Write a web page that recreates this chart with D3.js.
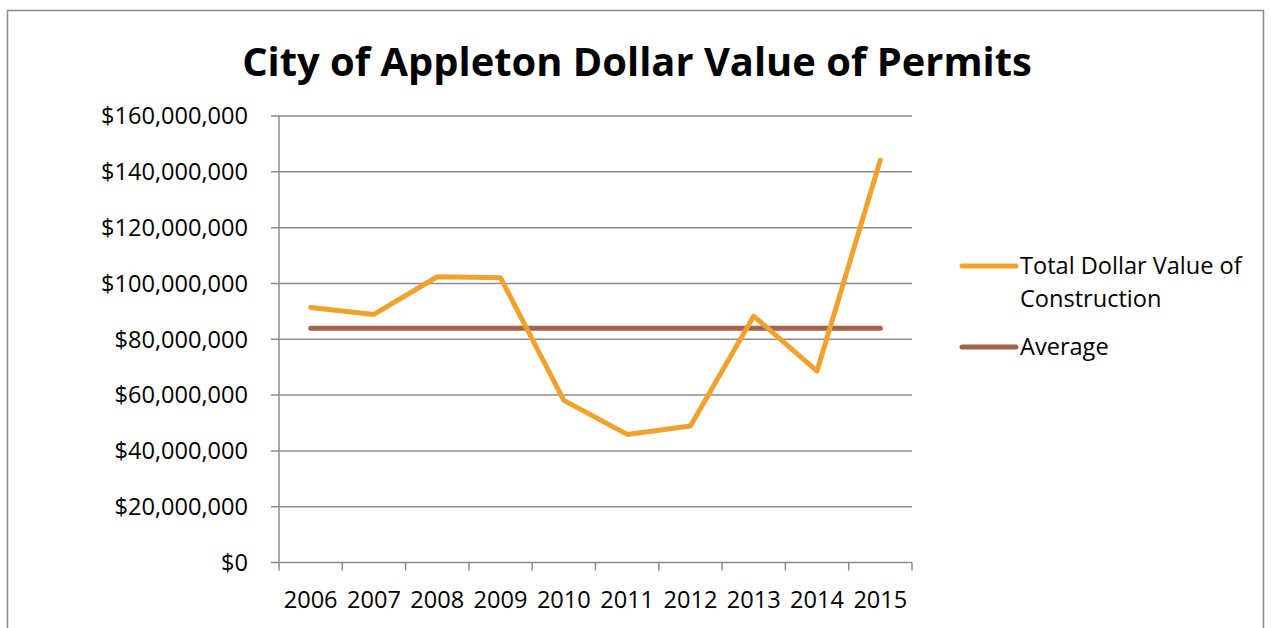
<!DOCTYPE html>
<html>
<head>
<meta charset="utf-8">
<script src="https://cdn.jsdelivr.net/npm/d3@7"></script>
<style>
  body { margin: 0; background: #fff; }
  svg text { font-family: "Open Sans", "Noto Sans", sans-serif; fill: #000; }
</style>
</head>
<body>
<div id="chart"></div>
<script>
// data
var years = ['2006','2007','2008','2009','2010','2011','2012','2013','2014','2015'];
var total_values = [91.4e6, 88.9e6, 102.4e6, 102.0e6, 58.1e6, 45.9e6, 48.9e6, 88.3e6, 68.6e6, 144.2e6];
var average_values = [83.9e6, 83.9e6, 83.9e6, 83.9e6, 83.9e6, 83.9e6, 83.9e6, 83.9e6, 83.9e6, 83.9e6];
var y_ticks = [0, 20e6, 40e6, 60e6, 80e6, 100e6, 120e6, 140e6, 160e6];
var series_names = ['Total Dollar Value of Construction', 'Average'];
var title_text = 'City of Appleton Dollar Value of Permits';

var width = 1271;
var height = 628;

var colors = {'total': '#F0A22E', 'average': '#A6624A'};

var svg = d3.select('#chart')
    .append('svg')
    .attr('width', width)
    .attr('height', height);

// chart frame
svg.append('rect')
    .attr('x', 7.5)
    .attr('y', 10.5)
    .attr('width', 1256)
    .attr('height', 640)
    .attr('fill', 'none')
    .attr('stroke', '#8a8a8a')
    .attr('stroke-width', 1.5);

var x = d3.scaleBand().domain(years).range([279, 912]);
var y = d3.scaleLinear().domain([0, 160e6]).range([562.5, 116]);

// fit a text element to a target width by scaling its font size
var fit = function(sel, target) {
    var w = sel.node().getComputedTextLength();
    var fs = parseFloat(sel.attr('font-size'));
    sel.attr('font-size', fs * target / w);
};

var title = svg.append('text')
    .attr('x', 637)
    .attr('y', 76)
    .attr('text-anchor', 'middle')
    .attr('font-weight', 'bold')
    .attr('font-size', 36)
    .text(title_text);
fit(title, 790);

// gridlines
svg.append('g')
    .selectAll('line')
    .data(y_ticks)
    .enter()
    .append('line')
    .attr('x1', 271)
    .attr('x2', 912)
    .attr('y1', function(d) { return y(d); })
    .attr('y2', function(d) { return y(d); })
    .attr('stroke', '#8c8c8c')
    .attr('stroke-width', 1.5);

// y axis line
svg.append('line')
    .attr('x1', 279).attr('x2', 279)
    .attr('y1', y(160e6)).attr('y2', y(0))
    .attr('stroke', '#8c8c8c')
    .attr('stroke-width', 1.5);

// x axis ticks
var xticks = years.map(function(d) { return x(d); }).concat([x.range()[1]]);
svg.append('g')
    .selectAll('line')
    .data(xticks)
    .enter()
    .append('line')
    .attr('x1', function(d) { return d; })
    .attr('x2', function(d) { return d; })
    .attr('y1', y(0))
    .attr('y2', y(0) + 8)
    .attr('stroke', '#8c8c8c')
    .attr('stroke-width', 1.5);

var fmt = function(v) { return '$' + d3.format(',')(v); };

var ylabels = svg.append('g')
    .selectAll('text')
    .data(y_ticks)
    .enter()
    .append('text')
    .attr('x', 248)
    .attr('y', function(d) { return y(d); })
    .attr('dy', '0.35em')
    .attr('text-anchor', 'end')
    .attr('font-size', 20)
    .text(fmt);

// size y labels so the widest one spans 147px
var widest = ylabels.filter(function(d) { return d === 160e6; });
var w0 = widest.node().getComputedTextLength();
var label_size = 20 * 147 / w0;
ylabels.attr('font-size', label_size);

svg.append('g')
    .selectAll('text')
    .data(years)
    .enter()
    .append('text')
    .attr('x', function(d) { return x(d) + x.bandwidth() / 2; })
    .attr('y', 600)
    .attr('dy', '0.35em')
    .attr('text-anchor', 'middle')
    .attr('font-size', label_size)
    .text(function(d) { return d; });

var line = d3.line()
    .x(function(d, i) { return x(years[i]) + x.bandwidth() / 2; })
    .y(function(d) { return y(d); });

svg.append('path')
    .datum(average_values)
    .attr('d', line)
    .attr('fill', 'none')
    .attr('stroke', colors.average)
    .attr('stroke-width', 5)
    .attr('stroke-linecap', 'round');

svg.append('path')
    .datum(total_values)
    .attr('d', line)
    .attr('fill', 'none')
    .attr('stroke', colors.total)
    .attr('stroke-width', 5)
    .attr('stroke-linecap', 'round')
    .attr('stroke-linejoin', 'round');

// legend
var legend = [
    {'name': series_names[0], 'color': colors.total, 'y': 266, 'lines': ['Total Dollar Value of', 'Construction']},
    {'name': series_names[1], 'color': colors.average, 'y': 347, 'lines': ['Average']}
];

var lg = svg.selectAll('g.legend')
    .data(legend)
    .enter()
    .append('g')
    .attr('class', 'legend');

lg.append('line')
    .attr('x1', 962)
    .attr('x2', 1016)
    .attr('y1', function(d) { return d.y; })
    .attr('y2', function(d) { return d.y; })
    .attr('stroke', function(d) { return d.color; })
    .attr('stroke-width', 5)
    .attr('stroke-linecap', 'round');

lg.append('text')
    .attr('x', 1020)
    .attr('y', function(d) { return d.y; })
    .attr('font-size', label_size)
    .selectAll('tspan')
    .data(function(d) { return d.lines; })
    .enter()
    .append('tspan')
    .attr('x', 1020)
    .attr('dy', function(d, i) { return i === 0 ? '0.35em' : 33; })
    .text(function(d) { return d; });
</script>
</body>
</html>
